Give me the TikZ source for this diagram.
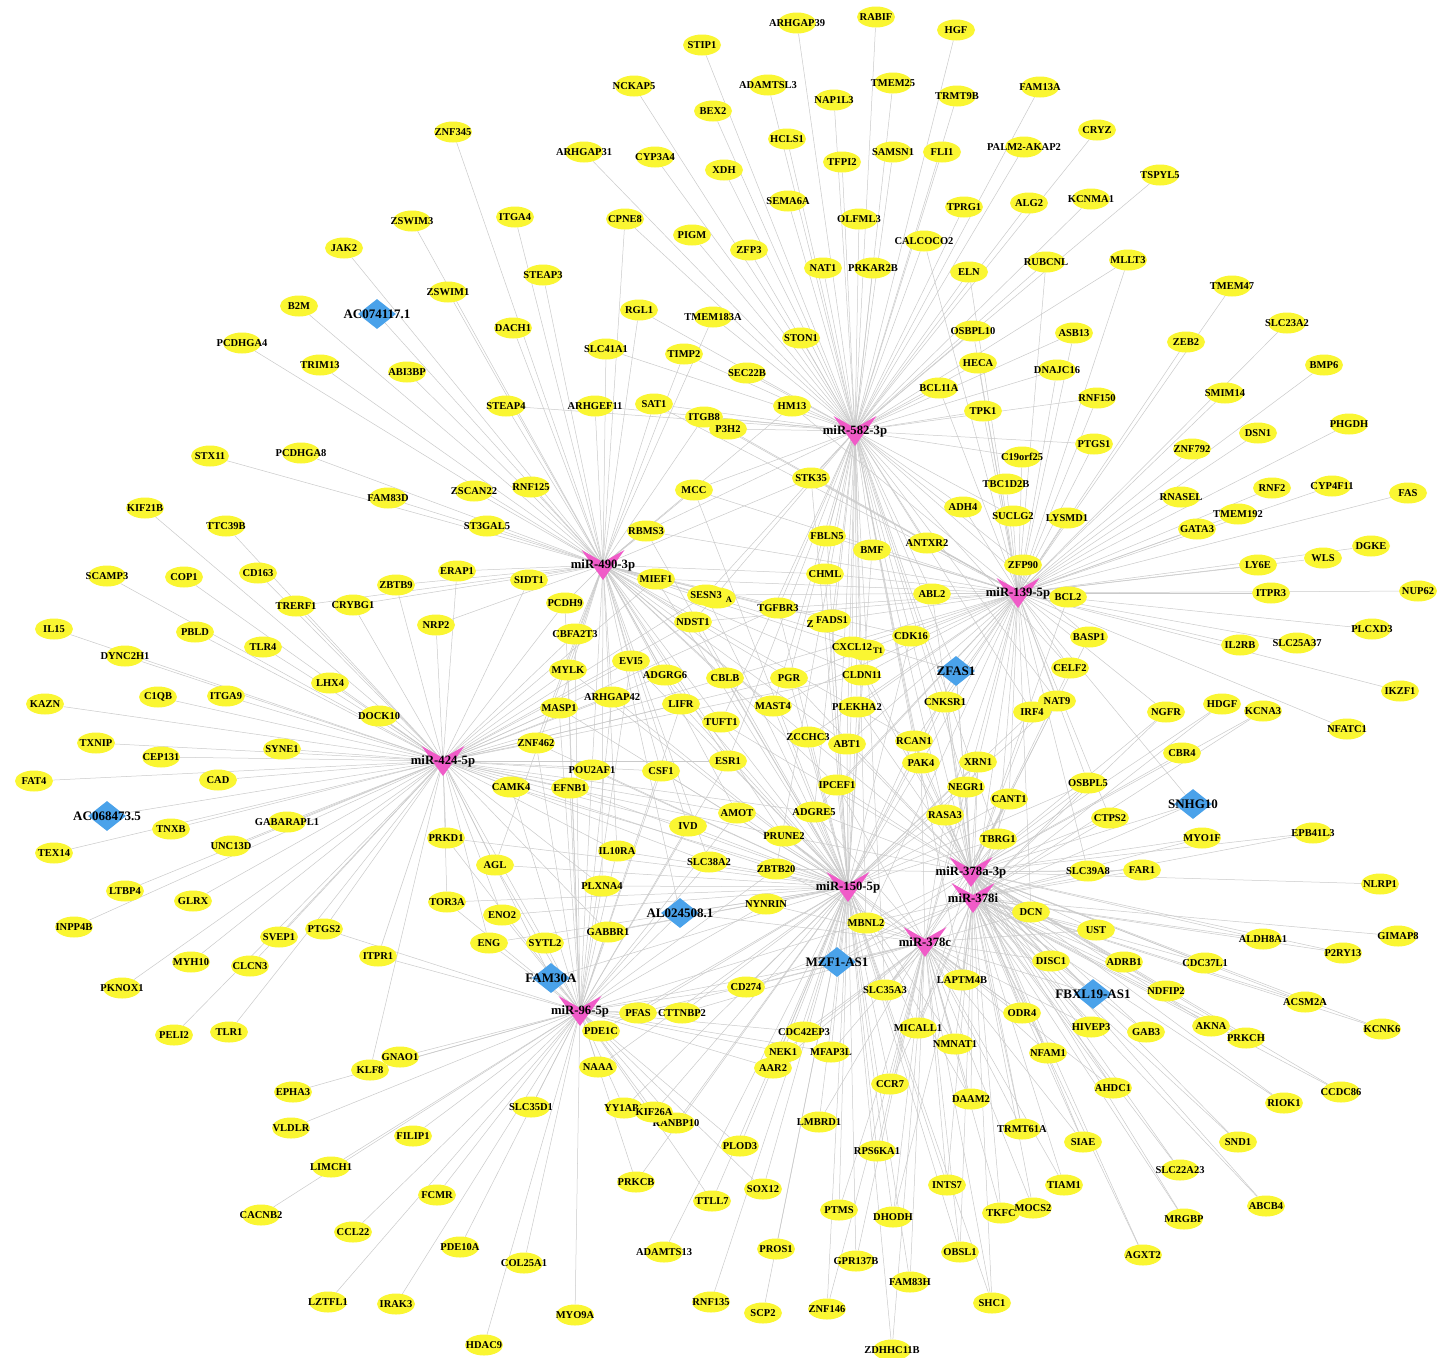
\documentclass[tikz,border=0pt]{standalone}
\usepackage{fontspec}
\setmainfont{Liberation Serif}
\usetikzlibrary{shapes.geometric,backgrounds}
\definecolor{gyel}{HTML}{FAF632}
\definecolor{hpink}{HTML}{F05BC8}
\definecolor{lblue}{HTML}{4AA2EA}
\definecolor{egray}{HTML}{CACACA}
\tikzset{
 gene/.style={ellipse, fill=gyel, minimum width=38pt, minimum height=21pt, inner sep=0pt},
 gtext/.style={font=\fontsize{10.5}{12}\selectfont\bfseries, text=black, inner sep=0pt},
 stext/.style={font=\fontsize{8.5}{10}\selectfont\bfseries, text=black, inner sep=0pt},
 hubpt/.style={circle, inner sep=0pt, minimum size=1pt},
 hubtext/.style={font=\fontsize{12.7}{14}\selectfont\bfseries, text=black, inner sep=0pt},
 lnc/.style={diamond, fill=lblue, minimum width=38pt, minimum height=30pt, inner sep=0pt},
 lnctext/.style={font=\fontsize{13}{15}\selectfont\bfseries, text=black, inner sep=0pt},
 edge/.style={draw=egray, line width=0.5pt},
 hubshape/.pic={\fill[hpink] (-21.5,-15) -- (0,-3) -- (21.5,-15) -- (0,15) -- cycle;}
}
\begin{document}
\begin{tikzpicture}[x=1pt,y=-1pt]
\useasboundingbox (0,0) rectangle (1453,1357);
% ---------- genes ----------
\foreach \n/\x/\y in {ARHGAP39/797/23, RABIF/876/17, HGF/956/30, STIP1/702/45, NCKAP5/634/86, ADAMTSL3/768/85, TMEM25/893/83, NAP1L3/834/100, TRMT9B/957/96, FAM13A/1040/87, BEX2/713/111, HCLS1/787/139, ZNF345/453/132, ARHGAP31/584/152, CYP3A4/655/157, TFPI2/842/162, SAMSN1/893/152, FLI1/942/152, CRYZ/1097/130, XDH/724/170, TSPYL5/1160/175, SEMA6A/788/201, KCNMA1/1091/199, ALG2/1029/203, TPRG1/964/207, ZSWIM3/412/221, ITGA4/515/217, CPNE8/625/219, OLFML3/859/219, PIGM/692/235, CALCOCO2/924/241, JAK2/344/248, ZFP3/749/250, NAT1/823/268, PRKAR2B/873/268, ELN/969/272, RUBCNL/1046/262, MLLT3/1128/260, STEAP3/543/275, TMEM47/1232/286, ZSWIM1/448/292, B2M/299/306, RGL1/639/310, TMEM183A/713/317, DACH1/513/328, SLC23A2/1287/323, OSBPL10/973/331, ASB13/1074/333, STON1/801/338, PCDHGA4/242/343, ZEB2/1186/342, SLC41A1/606/349, TIMP2/684/354, TRIM13/320/365, ABI3BP/407/372, HECA/978/363, DNAJC16/1057/370, BMP6/1324/365, SEC22B/747/373, SMIM14/1225/393, BCL11A/939/388, STEAP4/506/406, ARHGEF11/595/406, SAT1/654/404, HM13/792/406, RNF150/1097/398, TPK1/983/411, ITGB8/704/417, P3H2/728/429, DSN1/1258/433, PHGDH/1349/424, PTGS1/1094/444, STX11/210/456, PCDHGA8/301/453, ZNF792/1192/449, C19orf25/1022/457, RNF125/531/487, ZSCAN22/474/491, MCC/694/490, TBC1D2B/1006/484, STK35/811/478, RNASEL/1181/497, RNF2/1272/488, CYP4F11/1332/486, FAS/1408/493, FAM83D/388/498, KIF21B/145/508, ADH4/963/507, SUCLG2/1013/516, LYSMD1/1067/518, TMEM192/1238/514, ST3GAL5/487/526, TTC39B/226/526, GATA3/1197/529, RBMS3/646/531, FBLN5/827/536, ANTXR2/927/543, BMF/872/550, DGKE/1371/546, ERAP1/457/571, ZFP90/1023/565, WLS/1323/558, LY6E/1258/565, CD163/258/573, SCAMP3/107/576, COP1/184/577, CHML/825/574, SIDT1/529/580, MIEF1/656/579, ZBTB9/396/585, BCL2/1068/597, ITPR3/1271/593, NUP62/1418/591, ABL2/932/594, TRERF1/296/606, CRYBG1/353/605, PCDH9/565/603, TGFBR3/778/608, NDST1/693/622, CBFA2T3/575/634, CDK16/911/636, IL15/54/629, PBLD/195/632, NRP2/436/625, BASP1/1089/637, SLC25A37/1297/643, IL2RB/1240/645, PLCXD3/1372/629, DYNC2H1/125/656, TLR4/263/647, CELF2/1070/668, MYLK/568/670, EVI5/631/661, ADGRG6/665/675, CBLB/725/678, PGR/789/678, CLDN11/862/675, LHX4/330/683, IKZF1/1400/691, ARHGAP42/612/697, LIFR/681/704, MAST4/773/706, PLEKHA2/857/707, TUFT1/721/722, MASP1/559/708, DOCK10/379/716, KAZN/45/704, C1QB/158/697, ITGA9/226/696, CNKSR1/945/702, NAT9/1057/701, IRF4/1032/712, NGFR/1166/712, HDGF/1222/704, KCNA3/1263/711, NFATC1/1347/729, ZCCHC3/808/737, ABT1/847/744, RCAN1/914/741, ZNF462/536/743, CBR4/1182/753, SYNE1/282/749, TXNIP/96/743, CEP131/161/757, PAK4/921/763, XRN1/978/762, POU2AF1/592/770, ESR1/728/761, CSF1/661/771, NEGR1/966/787, CAD/218/780, FAT4/34/781, CAMK4/511/787, EFNB1/570/788, IPCEF1/837/785, OSBPL5/1088/783, CANT1/1009/799, ADGRE5/814/812, AMOT/737/813, RASA3/945/815, TNXB/171/829, GABARAPL1/287/822, IVD/688/826, EPB41L3/1313/833, MYO1F/1202/838, PRKD1/446/838, PRUNE2/784/836, TBRG1/998/839, CTPS2/1110/818, TEX14/54/853, UNC13D/231/846, IL10RA/617/851, SLC38A2/709/862, ZBTB20/776/869, AGL/495/865, SLC39A8/1088/871, FAR1/1142/870, NLRP1/1380/884, PLXNA4/602/886, LTBP4/125/891, TOR3A/447/902, GLRX/193/901, NYNRIN/766/904, DCN/1031/912, MBNL2/866/923, ENO2/502/915, INPP4B/74/927, UST/1096/930, PTGS2/324/929, SVEP1/279/937, GABBR1/608/932, ENG/489/943, SYTL2/545/943, ALDH8A1/1263/939, GIMAP8/1398/936, ITPR1/378/956, DISC1/1051/961, ADRB1/1124/962, CDC37L1/1205/963, MYH10/191/962, CLCN3/250/966, P2RY13/1343/953, LAPTM4B/962/980, CD274/746/987, SLC35A3/885/990, PKNOX1/122/988, NDFIP2/1166/991, ACSM2A/1305/1002, KCNK6/1382/1029, PFAS/638/1013, CTTNBP2/682/1013, ODR4/1022/1013, PELI2/174/1035, TLR1/229/1032, PDE1C/601/1031, CDC42EP3/804/1032, MICALL1/918/1028, HIVEP3/1091/1027, GAB3/1146/1032, AKNA/1211/1026, PRKCH/1246/1038, NMNAT1/955/1044, NEK1/783/1052, AAR2/773/1068, MFAP3L/831/1052, NFAM1/1048/1053, GNAO1/400/1057, KLF8/370/1070, NAAA/598/1067, CCR7/890/1084, EPHA3/293/1092, AHDC1/1113/1088, RIOK1/1284/1103, CCDC86/1341/1092, DAAM2/971/1099, SLC35D1/531/1107, YY1AP1/624/1108, RANBP10/676/1123, KIF26A/654/1112, VLDLR/291/1128, FILIP1/413/1136, LMBRD1/819/1122, TRMT61A/1022/1129, SIAE/1083/1142, SND1/1238/1142, PLOD3/740/1146, RPS6KA1/877/1151, LIMCH1/331/1167, SLC22A23/1180/1170, PRKCB/636/1182, INTS7/947/1185, TIAM1/1064/1185, FCMR/437/1195, SOX12/763/1189, TTLL7/712/1201, ABCB4/1266/1206, TKFC/1001/1213, MOCS2/1033/1208, PTMS/839/1210, DHODH/893/1217, CACNB2/261/1215, MRGBP/1184/1219, CCL22/353/1232, ADAMTS13/664/1252, PROS1/776/1249, OBSL1/960/1252, AGXT2/1143/1255, PDE10A/460/1247, COL25A1/524/1263, GPR137B/856/1261, FAM83H/910/1282, LZTFL1/328/1302, IRAK3/396/1304, RNF135/711/1302, SHC1/992/1303, SCP2/763/1313, ZNF146/827/1309, MYO9A/575/1315, HDAC9/484/1345, ZDHHC11B/892/1350}
  {\node[gene, label={[gtext]center:\n}] (\n) at (\x,\y) {};}
\node[gene, label={[gtext]center:PALM2-AKAP2}] (PALM2AKAP2) at (1024,147) {};
% partly hidden nodes
\node[gene, label={[stext,xshift=12pt,yshift=-2pt]center:A}] (hidA) at (717,598) {};
\node[gene, label={[gtext]center:SESN3}] (SESN3) at (706,595) {};
\node[gene, label={[gtext,xshift=-16pt,yshift=-2pt]center:Z}] (hidZ) at (826,622) {};
\node[gene, label={[gtext]center:FADS1}] (FADS1) at (832,620) {};
\node[gene, label={[stext,xshift=12pt,yshift=-1pt]center:T1}] (hidT) at (866,650) {};
\node[gene, label={[gtext]center:CXCL12}] (CXCL12) at (852,647) {};
% ---------- lncRNAs ----------
\foreach \n/\x/\y/\t in {AC0741171/377/314/AC074117.1, AC0684735/107/816/AC068473.5, ZFAS1/956/671/ZFAS1, SNHG10/1193/804/SNHG10, AL0245081/680/913/AL024508.1, FAM30A/551/978/FAM30A, MZF1AS1/837/962/MZF1-AS1, FBXL19AS1/1093/994/FBXL19-AS1}
  {\node[lnc, label={[lnctext]center:\t}] (\n) at (\x,\y) {};}
% ---------- miRNA hubs ----------
\foreach \n/\x/\y/\t in {m582/855/431/miR-582-3p, m490/603/565/miR-490-3p, m139/1018/593/miR-139-5p, m424/443/761/miR-424-5p, m150/848/887/miR-150-5p, m378c/925/942/miR-378c, m96/580/1011/miR-96-5p, m378a/971/872/miR-378a-3p, m378i/973/898/miR-378i}
  {\node[hubpt] (\n) at (\x,\y) {};
   \pic at (\n) {hubshape};
   \node[hubtext] at (\n) {\t};}
% ---------- edges ----------
\begin{scope}[on background layer]
\fill[white] (0,0) rectangle (1453,1357);
\foreach \t in {ARHGAP39, RABIF, HGF, STIP1, NCKAP5, ADAMTSL3, TMEM25, NAP1L3, TRMT9B, FAM13A, BEX2, HCLS1, ARHGAP31, CYP3A4, TFPI2, SAMSN1, FLI1, PALM2AKAP2, CRYZ, XDH, TSPYL5, SEMA6A, KCNMA1, ALG2, TPRG1, CPNE8, OLFML3, PIGM, CALCOCO2, ZFP3, NAT1, PRKAR2B, ELN, RUBCNL, MLLT3, RGL1, TMEM183A, STON1, OSBPL10, ASB13, TIMP2, HECA, SEC22B, BCL11A, DNAJC16, HM13, TPK1, ITGB8, P3H2, STK35, RNF150, C19orf25, PTGS1, SAT1, MCC, FBLN5, BMF, ANTXR2, CHML, ADH4, SUCLG2, SLC41A1, TGFBR3, FADS1, CXCL12, CLDN11, PGR, CDK16, ABL2, ZFAS1, CNKSR1, PLEKHA2, MAST4, ABT1, IPCEF1, RCAN1, PAK4, NEGR1, RASA3, ADGRE5, IRF4, NAT9, CELF2, BASP1, ZFP90, TUFT1, ESR1, MBNL2, SLC35A3, LAPTM4B, TBRG1, ZBTB20, SESN3, NDST1, ARHGEF11, STEAP4, RBMS3}
  {\draw[edge] (m582) -- (\t);}
\foreach \t in {ZNF345, ZSWIM3, JAK2, ITGA4, STEAP3, ZSWIM1, B2M, AC0741171, DACH1, PCDHGA4, TRIM13, ABI3BP, STEAP4, ARHGEF11, SLC41A1, RNF125, ZSCAN22, ST3GAL5, FAM83D, PCDHGA8, STX11, MCC, RBMS3, ERAP1, ZBTB9, CRYBG1, TRERF1, SIDT1, PCDH9, CBFA2T3, MIEF1, NRP2, SESN3, NDST1, TGFBR3, MYLK, EVI5, ADGRG6, CBLB, PGR, CLDN11, FADS1, CXCL12, CDK16, ARHGAP42, LIFR, MASP1, ZNF462, TUFT1, MAST4, CSF1, ESR1, POU2AF1, IPCEF1, AMOT, IVD, PRUNE2, IL10RA, SLC38A2, STK35, CHML, SAT1, ITGB8, HM13, TIMP2, AGL, PLXNA4, AL0245081, RCAN1, ZFAS1, ABT1, ZCCHC3, RGL1, TMEM183A, CPNE8}
  {\draw[edge] (m490) -- (\t);}
\foreach \t in {KIF21B, TTC39B, CD163, SCAMP3, COP1, TRERF1, CRYBG1, ZBTB9, IL15, PBLD, TLR4, DYNC2H1, LHX4, NRP2, KAZN, C1QB, ITGA9, DOCK10, TXNIP, CEP131, SYNE1, FAT4, CAD, AC0684735, TNXB, TEX14, GABARAPL1, UNC13D, LTBP4, INPP4B, GLRX, MYH10, SVEP1, CLCN3, PKNOX1, PTGS2, ITPR1, PRKD1, TOR3A, PELI2, TLR1, KLF8, CAMK4, AGL, ENO2, ENG, SYTL2, MYLK, CBFA2T3, PCDH9, SIDT1, MASP1, ZNF462, POU2AF1, EFNB1, ARHGAP42, EVI5, CSF1, IL10RA, PLXNA4, GABBR1, FAM30A, IVD, AMOT, ESR1, LIFR, ADGRG6, CBLB, PGR, SLC38A2, ZBTB20, PRUNE2, ADGRE5, NDST1, MIEF1, ERAP1, SESN3, TGFBR3, CLDN11}
  {\draw[edge] (m424) -- (\t);}
\foreach \t in {TMEM47, ZEB2, SLC23A2, BMP6, SMIM14, DSN1, PHGDH, ZNF792, RNASEL, RNF2, CYP4F11, FAS, TMEM192, GATA3, DGKE, WLS, LY6E, ITPR3, NUP62, PLCXD3, SLC25A37, IL2RB, IKZF1, NFATC1, NGFR, BCL2, BASP1, CELF2, ZFP90, LYSMD1, SUCLG2, ADH4, TBC1D2B, C19orf25, PTGS1, RNF150, TPK1, DNAJC16, HECA, ASB13, OSBPL10, BCL11A, ANTXR2, BMF, CHML, FBLN5, STK35, ABL2, CDK16, FADS1, CXCL12, ZFAS1, CNKSR1, IRF4, NAT9, XRN1, NEGR1, CANT1, OSBPL5, TBRG1, CTPS2, SNHG10, RCAN1, PAK4, RASA3, PLEKHA2, CLDN11, PGR, TGFBR3, SESN3, NDST1, MIEF1, RBMS3, MCC, HM13, P3H2, ITGB8, SAT1, IPCEF1, ADGRE5, ABT1, ZCCHC3, MAST4, CBLB, MBNL2, LAPTM4B, DCN, SLC39A8, ELN, CALCOCO2, RUBCNL, MLLT3}
  {\draw[edge] (m139) -- (\t);}
\foreach \t in {MBNL2, NYNRIN, ZBTB20, PRUNE2, SLC38A2, IL10RA, IVD, AMOT, ADGRE5, ESR1, CSF1, TUFT1, LIFR, MAST4, PLEKHA2, ZCCHC3, ABT1, IPCEF1, RCAN1, PAK4, NEGR1, RASA3, CNKSR1, ZFAS1, CLDN11, PGR, CBLB, ADGRG6, EVI5, MYLK, ARHGAP42, POU2AF1, EFNB1, CAMK4, ZNF462, MASP1, PLXNA4, GABBR1, AL0245081, FAM30A, SYTL2, ENG, ENO2, AGL, PRKD1, TOR3A, CD274, SLC35A3, MZF1AS1, PFAS, CTTNBP2, PDE1C, NAAA, CDC42EP3, NEK1, MFAP3L, AAR2, CCR7, MICALL1, NMNAT1, LMBRD1, RPS6KA1, PLOD3, TTLL7, SOX12, PROS1, SCP2, RNF135, ADAMTS13, PRKCB, RANBP10, KIF26A, YY1AP1, PTMS, ZNF146, GPR137B, DHODH, FAM83H, ZDHHC11B, INTS7, OBSL1, SHC1, LAPTM4B, ODR4, DAAM2, TBRG1, CANT1, OSBPL5, IRF4, NAT9, XRN1, TGFBR3, FADS1, CXCL12, CDK16, NDST1, SESN3, CHML, BMF, FBLN5, STK35, MCC, RBMS3, MIEF1}
  {\draw[edge] (m150) -- (\t);}
\foreach \t in {SLC39A8, FAR1, NLRP1, MYO1F, EPB41L3, SNHG10, CTPS2, OSBPL5, CANT1, TBRG1, NEGR1, XRN1, IRF4, NAT9, NGFR, HDGF, KCNA3, CBR4, CELF2, BASP1, BCL2, DCN, UST, DISC1, ADRB1, CDC37L1, ALDH8A1, P2RY13, NDFIP2, FBXL19AS1, ACSM2A, KCNK6, GAB3, AKNA, PRKCH, RIOK1, CCDC86, HIVEP3, AHDC1, SND1, ABCB4, SLC22A23, MRGBP, AGXT2, SIAE, NFAM1, TRMT61A, ODR4, LAPTM4B, MICALL1, RASA3, PAK4, RCAN1, CNKSR1, ZFAS1, IPCEF1, ADGRE5, MBNL2, MZF1AS1, SLC35A3, PRUNE2, ZBTB20, CDK16, ABL2, PLEKHA2, CLDN11, ABT1, ZCCHC3, TUFT1, PGR, CXCL12}
  {\draw[edge] (m378a) -- (\t);}
\foreach \t in {SLC39A8, FAR1, GIMAP8, ALDH8A1, P2RY13, CDC37L1, ACSM2A, KCNK6, RIOK1, CCDC86, SND1, ABCB4, MRGBP, SLC22A23, AGXT2, AHDC1, SIAE, TIAM1, TKFC, MOCS2, TRMT61A, NFAM1, HIVEP3, GAB3, AKNA, PRKCH, NDFIP2, FBXL19AS1, ADRB1, DISC1, UST, DCN, ODR4, DAAM2, LAPTM4B, MICALL1, NMNAT1, INTS7, OBSL1, SHC1, CCR7, DHODH, MYO1F, SNHG10, CTPS2, OSBPL5, TBRG1, CANT1, NEGR1, XRN1, RASA3, MZF1AS1, MBNL2, SLC35A3, CD274, ZFAS1, CNKSR1, EPB41L3, HDGF, KCNA3, NGFR}
  {\draw[edge] (m378i) -- (\t);}
\foreach \t in {LAPTM4B, SLC35A3, MZF1AS1, MBNL2, ODR4, DAAM2, MICALL1, NMNAT1, CCR7, INTS7, OBSL1, SHC1, DHODH, FAM83H, RPS6KA1, ZDHHC11B, GPR137B, TKFC, MOCS2, TIAM1, TRMT61A, SIAE, NFAM1, AHDC1, MFAP3L, CDC42EP3, NEK1, AAR2, DCN, DISC1, UST, FBXL19AS1, HIVEP3, RASA3, TBRG1, CANT1, NEGR1, XRN1, PAK4, ADGRE5, IPCEF1, PRUNE2, ZBTB20, NYNRIN, AL0245081, CD274, PFAS, CTTNBP2, LMBRD1, PTMS, ZNF146}
  {\draw[edge] (m378c) -- (\t);}
\foreach \t in {PDE1C, NAAA, SLC35D1, YY1AP1, KIF26A, RANBP10, PRKCB, GNAO1, KLF8, EPHA3, VLDLR, FILIP1, LIMCH1, CACNB2, CCL22, FCMR, PDE10A, COL25A1, LZTFL1, IRAK3, MYO9A, HDAC9, PFAS, CTTNBP2, FAM30A, SYTL2, ENG, ENO2, GABBR1, AGL, TOR3A, PRKD1, ITPR1, PTGS2, PLXNA4, IL10RA, AL0245081, CD274, CAMK4, EFNB1, POU2AF1, CSF1, IVD, SLC38A2, NYNRIN, ZBTB20, MBNL2, MZF1AS1, NEK1, AAR2, CDC42EP3, MFAP3L, ZNF462, MASP1, EVI5, MYLK, CBFA2T3, PCDH9, ARHGAP42, LIFR, AMOT, ESR1, PLOD3, TTLL7, SOX12}
  {\draw[edge] (m96) -- (\t);}
\end{scope}
\end{tikzpicture}
\end{document}
